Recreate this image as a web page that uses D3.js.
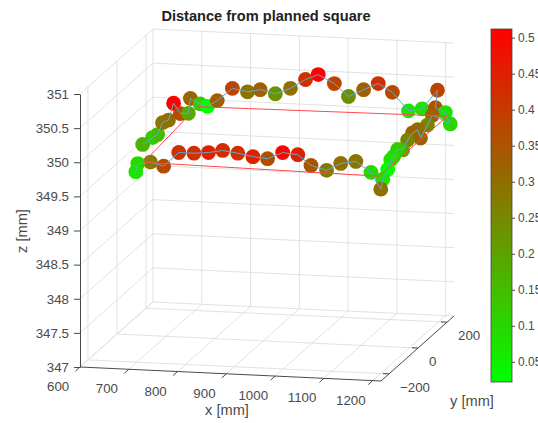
<!DOCTYPE html>
<html>
<head>
<meta charset="utf-8">
<script src="https://cdn.jsdelivr.net/npm/d3@7"></script>
<style>
  body { margin: 0; background: #fff; }
  text { font-family: "Liberation Sans", Arial, Helvetica, sans-serif; }
</style>
</head>
<body>
<svg width="538" height="423"></svg>
<script>
/* ==================== DATA ==================== */

var xTicks = [600, 700, 800, 900, 1000, 1100, 1200];
var yTicks = [-200, 0, 200];
var zTicks = [347, 347.5, 348, 348.5, 349, 349.5, 350, 350.5, 351];
var cTicks = [0.05, 0.1, 0.15, 0.2, 0.25, 0.3, 0.35, 0.4, 0.45, 0.5];

// measured points, in the order the tool went round (front-left corner, up the left side, ...)
var ptX = [710, 710, 710, 710, 710, 710, 710, 710, 710,
           711, 726, 746, 777, 808, 834, 865, 896, 927, 953, 986, 1015, 1046, 1076, 1105, 1138, 1166,
           1212, 1212, 1212, 1212, 1212, 1212, 1212, 1212, 1212, 1212, 1212, 1212, 1212, 1212, 1212, 1212, 1212,
           1192, 1161, 1130, 1101, 1069, 1042, 1011, 980, 950, 919, 888, 859, 829, 798, 767, 740, 714, 710];
var ptY = [-193, -124, -90, -56, -15, 20, 67, 122, 136,
           200, 200, 200, 200, 200, 200, 200, 200, 200, 200, 200, 200, 200, 200, 200, 200, 200,
           151, 137, 205, 239, 116, 82, 34, 14, -20, -55, -89, -123, -151, -171, -192, -226, -240,
           -240, -240, -240, -240, -240, -240, -240, -240, -240, -240, -240, -240, -240, -240, -240, -240, -240, -240];
var ptZ = [350.18, 350.15, 350.13, 350.24, 350.20, 350.38, 350.14, 350.04, 350.23,
           350.03, 350.00, 350.09, 350.28, 350.24, 350.28, 350.23, 350.32, 350.46, 350.54, 350.42, 350.24, 350.35, 350.45, 350.33, 350.07, 350.11,
           350.49, 350.26, 350.06, 349.83, 350.19, 350.11, 350.01, 350.17, 350.19, 350.15, 350.07, 350.14, 350.09, 350.08, 349.98, 349.90, 349.78,
           350.02, 350.17, 350.13, 350.02, 350.08, 350.23, 350.25, 350.15, 350.17, 350.21, 350.24, 350.20, 350.18, 350.18, 349.97, 350.02, 349.99, 349.87];
var ptDist = [0.17, 0.12, 0.15, 0.29, 0.30, 0.51, 0.37, 0.18, 0.32,
              0.12, 0.022, 0.33, 0.38, 0.29, 0.33, 0.23, 0.30, 0.42, 0.512, 0.38, 0.24, 0.33, 0.42, 0.37, 0.07, 0.08,
              0.38, 0.35, 0.08, 0.10, 0.33, 0.26, 0.33, 0.30, 0.32, 0.26, 0.20, 0.12, 0.10, 0.08, 0.03, 0.08, 0.30,
              0.10, 0.29, 0.30, 0.28, 0.35, 0.45, 0.50, 0.36, 0.45, 0.42, 0.43, 0.45, 0.42, 0.42, 0.37, 0.28, 0.10, 0.07];

// planned square corners
var planX = [724, 1213, 1215, 707, 724];
var planY = [-234, -255, 210, 194, -234];
var planZ = [350, 350, 350, 350, 350];

/* ==================== PROJECTION ==================== */

var svg = d3.select("svg"),
    origin = [80, 367],      // screen spot of (xmin, ymin, zmin)
    xVec = [301, 14],        // screen run of the whole x range
    yVec = [73, -65],
    zVec = [0, -273];

var x = d3.scaleLinear().domain([600, 1217]).range([0, 1]),
    y = d3.scaleLinear().domain([-255, 248]).range([0, 1]),
    z = d3.scaleLinear().domain([347, 351]).range([0, 1]);

function project(px, py, pz) {
    var a = x(px), b = y(py), c = z(pz);
    return [origin[0] + a * xVec[0] + b * yVec[0] + c * zVec[0],
            origin[1] + a * xVec[1] + b * yVec[1] + c * zVec[1]];
}

var xMin = x.domain()[0], xMax = x.domain()[1],
    yMin = y.domain()[0], yMax = y.domain()[1],
    zMin = z.domain()[0], zMax = z.domain()[1];

var color = d3.scaleLinear()
    .domain(d3.extent(ptDist))
    .range(["#00ff00", "#ff0000"]);

var axisColor = "#4a4a4a";
var fmt = d3.format("~g");

/* ==================== GRID ==================== */

var grid = [];
xTicks.forEach(function(t) {
    grid.push([[t, yMax, zMin], [t, yMax, zMax]]);   // back wall
    grid.push([[t, yMin, zMin], [t, yMax, zMin]]);   // floor
});
yTicks.forEach(function(t) {
    grid.push([[xMin, t, zMin], [xMin, t, zMax]]);   // left wall
    grid.push([[xMin, t, zMin], [xMax, t, zMin]]);   // floor
});
zTicks.forEach(function(t) {
    grid.push([[xMin, yMax, t], [xMax, yMax, t]]);   // back wall
    grid.push([[xMin, yMin, t], [xMin, yMax, t]]);   // left wall
});

svg.append("g")
    .selectAll("line")
    .data(grid)
    .enter().append("line")
    .attr("x1", function(d) { return project.apply(null, d[0])[0]; })
    .attr("y1", function(d) { return project.apply(null, d[0])[1]; })
    .attr("x2", function(d) { return project.apply(null, d[1])[0]; })
    .attr("y2", function(d) { return project.apply(null, d[1])[1]; })
    .attr("stroke", "#dedede")
    .attr("stroke-width", 0.9);

/* ==================== AXES ==================== */

// z axis is upright, so a normal d3 axis does the job
var zScreen = d3.scaleLinear().domain([zMin, zMax]).range([origin[1], origin[1] + zVec[1]]);
var zAxis = svg.append("g")
    .attr("transform", "translate(" + origin[0] + ",0)")
    .attr("color", axisColor)
    .call(d3.axisLeft(zScreen).tickValues(zTicks).tickFormat(fmt).tickSize(6).tickSizeOuter(0).tickPadding(5));
zAxis.selectAll("text").style("font-size", "13.3px").attr("font-family", null);

// x axis along the front of the floor, y axis along its right side
var a0 = project(xMin, yMin, zMin), a1 = project(xMax, yMin, zMin), a2 = project(xMax, yMax, zMin);
svg.append("path")
    .attr("d", "M" + a0 + "L" + a1 + "L" + a2)
    .attr("fill", "none")
    .attr("stroke", axisColor)
    .attr("stroke-width", 1);

var yLen = Math.hypot(yVec[0], yVec[1]);
var xTick = svg.append("g").selectAll("g")
    .data(xTicks)
    .enter().append("g")
    .attr("transform", function(d) { return "translate(" + project(d, yMin, zMin) + ")"; });
xTick.append("line")
    .attr("x2", -yVec[0] / yLen * 6)
    .attr("y2", -yVec[1] / yLen * 6)
    .attr("stroke", axisColor);
xTick.append("text")
    .attr("x", -yVec[0] * 0.3)
    .attr("y", -yVec[1] * 0.3)
    .attr("dy", "0.35em")
    .attr("text-anchor", "middle")
    .attr("fill", axisColor)
    .style("font-size", "13.3px")
    .text(function(d) { return fmt(d); });

var yTick = svg.append("g").selectAll("g")
    .data(yTicks)
    .enter().append("g")
    .attr("transform", function(d) { return "translate(" + project(xMax, d, zMin) + ")"; });
yTick.append("line")
    .attr("x2", -6)
    .attr("y2", -0.3)
    .attr("stroke", axisColor);
yTick.append("text")
    .attr("x", 11)
    .attr("y", 13)
    .attr("dy", "0.35em")
    .attr("fill", axisColor)
    .style("font-size", "13.3px")
    .text(function(d) { return fmt(d); });

/* ==================== LABELS ==================== */

svg.append("text")
    .attr("x", 266)
    .attr("y", 21)
    .attr("text-anchor", "middle")
    .attr("font-weight", "bold")
    .attr("fill", "#222")
    .style("font-size", "14.6px")
    .text("Distance from planned square");

svg.append("text")
    .attr("x", 227)
    .attr("y", 410)
    .attr("dy", "0.35em")
    .attr("text-anchor", "middle")
    .attr("fill", axisColor)
    .style("font-size", "14.6px")
    .text("x [mm]");

svg.append("text")
    .attr("x", 472)
    .attr("y", 401)
    .attr("dy", "0.35em")
    .attr("text-anchor", "middle")
    .attr("fill", axisColor)
    .style("font-size", "14.6px")
    .text("y [mm]");

svg.append("text")
    .attr("transform", "translate(22,231) rotate(-90)")
    .attr("dy", "0.35em")
    .attr("text-anchor", "middle")
    .attr("fill", axisColor)
    .style("font-size", "14.6px")
    .text("z [mm]");

/* ==================== POINTS AND PATHS ==================== */

var pts = ptX.map(function(d, i) {
    return { p: project(ptX[i], ptY[i], ptZ[i]), dist: ptDist[i] };
});

svg.append("g")
    .selectAll("circle")
    .data(pts)
    .enter().append("circle")
    .attr("cx", function(d) { return d.p[0]; })
    .attr("cy", function(d) { return d.p[1]; })
    .attr("r", 7.4)
    .attr("fill", function(d) { return color(d.dist); });

var line = d3.line();

svg.append("path")
    .attr("d", line(pts.map(function(d) { return d.p; })))
    .attr("fill", "none")
    .attr("stroke", "#5ea9dc")
    .attr("stroke-width", 1);

svg.append("path")
    .attr("d", line(planX.map(function(d, i) { return project(planX[i], planY[i], planZ[i]); })))
    .attr("fill", "none")
    .attr("stroke", "#ff4a4a")
    .attr("stroke-width", 1);

/* ==================== COLORBAR ==================== */

var cbX = 491, cbW = 21;
var cb = d3.scaleLinear().domain(color.domain()).range([382, 29]);

var grad = svg.append("defs").append("linearGradient")
    .attr("id", "cbGrad")
    .attr("x1", 0).attr("y1", 1).attr("x2", 0).attr("y2", 0);
grad.append("stop").attr("offset", "0%").attr("stop-color", color(color.domain()[0]));
grad.append("stop").attr("offset", "100%").attr("stop-color", color(color.domain()[1]));

svg.append("rect")
    .attr("x", cbX)
    .attr("y", cb.range()[1])
    .attr("width", cbW)
    .attr("height", cb.range()[0] - cb.range()[1])
    .attr("fill", "url(#cbGrad)")
    .attr("stroke", "#444")
    .attr("stroke-width", 0.8);

var cAxis = svg.append("g")
    .attr("transform", "translate(" + (cbX + cbW) + ",0)")
    .attr("color", axisColor)
    .call(d3.axisRight(cb).tickValues(cTicks).tickFormat(fmt).tickSize(3).tickSizeOuter(0).tickPadding(3));
cAxis.select(".domain").remove();
cAxis.selectAll("text").style("font-size", "12px").attr("font-family", null);
</script>
</body>
</html>
